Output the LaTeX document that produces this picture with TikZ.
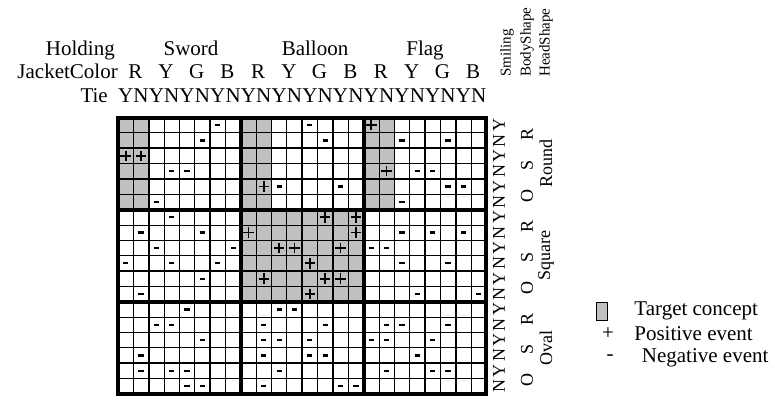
\documentclass[tikz,border=0pt]{standalone}
\usepackage{fontspec}
\setmainfont{Liberation Serif}
\usetikzlibrary{positioning}

\newcommand{\bigfont}{\fontsize{21}{24}\selectfont}
\newcommand{\midfont}{\fontsize{18}{21}\selectfont}
\newcommand{\smallfont}{\fontsize{15}{18}\selectfont}

\definecolor{TargetGray}{RGB}{192,192,192}

\begin{document}
\begin{tikzpicture}[
	x=1pt,
	y=-1pt,
	txt/.style={font=\bigfont, inner sep=0pt},
	rotval/.style={font=\midfont, inner sep=0pt, rotate=90},
	rothead/.style={font=\smallfont, inner sep=0pt, rotate=90, anchor=west},
	thinrule/.style={line width=0.9pt},
	pairrule/.style={line width=1.6pt},
	blockrule/.style={line width=4pt},
	posmark/.style={line width=1.7pt},
	negmark/.style={line width=2.3pt}
	]
	
	\useasboundingbox (0,0) rectangle (775,402);
	
	\node[txt, anchor=base east] (holding) at (115,55) {Holding};
	\node[txt, anchor=base east] (jacket) at (118,78) {JacketColor};
	\node[txt, anchor=base east] (tie) at (108,102) {Tie};
	
	\node[txt, anchor=base] (sword) at (191,55) {Sword};
	\node[txt, anchor=base] (balloon) at (315,55) {Balloon};
	\node[txt, anchor=base] (flag) at (425,55) {Flag};
	
	\foreach \b in {0,1,2}
	\foreach \jc [count=\p from 0] in {R,Y,G,B}
	\node[txt, anchor=base] (jc-\b-\p) at ({118+(8*\b+2*\p+1)*15.35+2},78) {\jc};
	
	\foreach \i in {0,...,11} {
		\node[txt, anchor=base] (tie-Y-\i) at ({118+(2*\i+0.5)*15.35},102) {Y};
		\node[txt, anchor=base] (tie-N-\i) at ({118+(2*\i+1.5)*15.35},102) {N};
	}
	
	\node[rothead] (smiling) at (507,77) {Smiling};
	\node[rothead] (bodyshape) at (527,77) {BodyShape};
	\node[rothead] (headshape) at (546,77) {HeadShape};
	
	\foreach \j in {0,...,8} {
		\node[rotval] (smile-Y-\j) at (499,{117.5+(2*\j+0.5)*15.35}) {Y};
		\node[rotval] (smile-N-\j) at (499,{117.5+(2*\j+1.5)*15.35}) {N};
	}
	
	\foreach \b in {0,1,2}
	\foreach \bs [count=\p from 0] in {R,S,O}
	\node[rotval] (body-\b-\p) at (527,{117.5+(6*\b+2*\p+1)*15.35+2}) {\bs};
	
	\foreach \hs [count=\b from 0] in {Round,Square,Oval}
	\node[rotval] (head-\b) at (546,{117.5+(6*\b+3)*15.35}) {\hs};
	
	\begin{scope}[shift={(118,117.5)}, x=15.35pt, y=-15.35pt]
		\fill[TargetGray] (0,0) rectangle (2,6) (8,0) rectangle (10,6)
		(16,0) rectangle (18,6) (8,6) rectangle (16,12);
		
		\foreach \i in {1,...,23}
		\draw[thinrule] (\i,0) -- (\i,18);
		\foreach \j in {1,...,17}
		\draw[thinrule] (0,\j) -- (24,\j);
		
		\foreach \i in {2,4,6,10,12,14,18,20,22}
		\draw[pairrule] (\i,0) -- (\i,18);
		\foreach \j in {2,4,8,10,14,16}
		\draw[pairrule] (0,\j) -- (24,\j);
		
		\foreach \i in {8,16}
		\draw[blockrule] (\i,0) -- (\i,18);
		\foreach \j in {6,12}
		\draw[blockrule] (0,\j) -- (24,\j);
		\draw[blockrule] (0,0) rectangle (24,18);
		
		\foreach \col/\row in {1/3,2/3,17/1,18/4,10/5,14/7,16/7,9/8,16/8,11/9,12/9,15/9,
			13/10,10/11,14/11,15/11,13/12}
		\draw[posmark] (\col-0.84,\row-0.5) -- (\col-0.16,\row-0.5)
		(\col-0.5,\row-0.84) -- (\col-0.5,\row-0.16);
		
		\foreach \col/\row in {7/1,6/2,4/4,5/4,3/6,4/7,2/8,6/8,3/9,8/9,1/10,4/10,7/10,6/11,2/12,
			5/13,3/14,4/14,6/15,2/16,2/17,4/17,5/17,5/18,6/18,
			13/1,14/2,11/5,15/5,11/13,12/13,10/14,14/14,10/15,11/15,13/15,10/16,13/16,14/16,
			11/17,10/18,15/18,16/18,
			19/2,22/2,20/4,21/4,22/5,23/5,19/6,19/8,21/8,23/8,17/9,18/9,19/10,22/10,20/12,24/12,
			18/14,19/14,22/14,17/15,18/15,21/15,20/16,18/17,21/17,22/17}
		\draw[negmark] (\col-0.67,\row-0.5) -- (\col-0.33,\row-0.5);
	\end{scope}
	
	\node[
	draw,
	fill=TargetGray,
	line width=0.5pt,
	minimum width=11pt,
	minimum height=18pt,
	inner sep=0pt
	]
	(swatch) at (601.5,311) {};
	\node[txt, right=27pt of swatch] (targettext) {Target concept};
	
	\node[txt] (plussign) at (608,334) {+};
	\node[txt, right=20pt of plussign] (postext) {Positive event};
	
	\node[txt] (minussign) at (610,358) {-};
	\node[txt, right=28pt of minussign] (negtext) {Negative event};
	
\end{tikzpicture}
\end{document}
